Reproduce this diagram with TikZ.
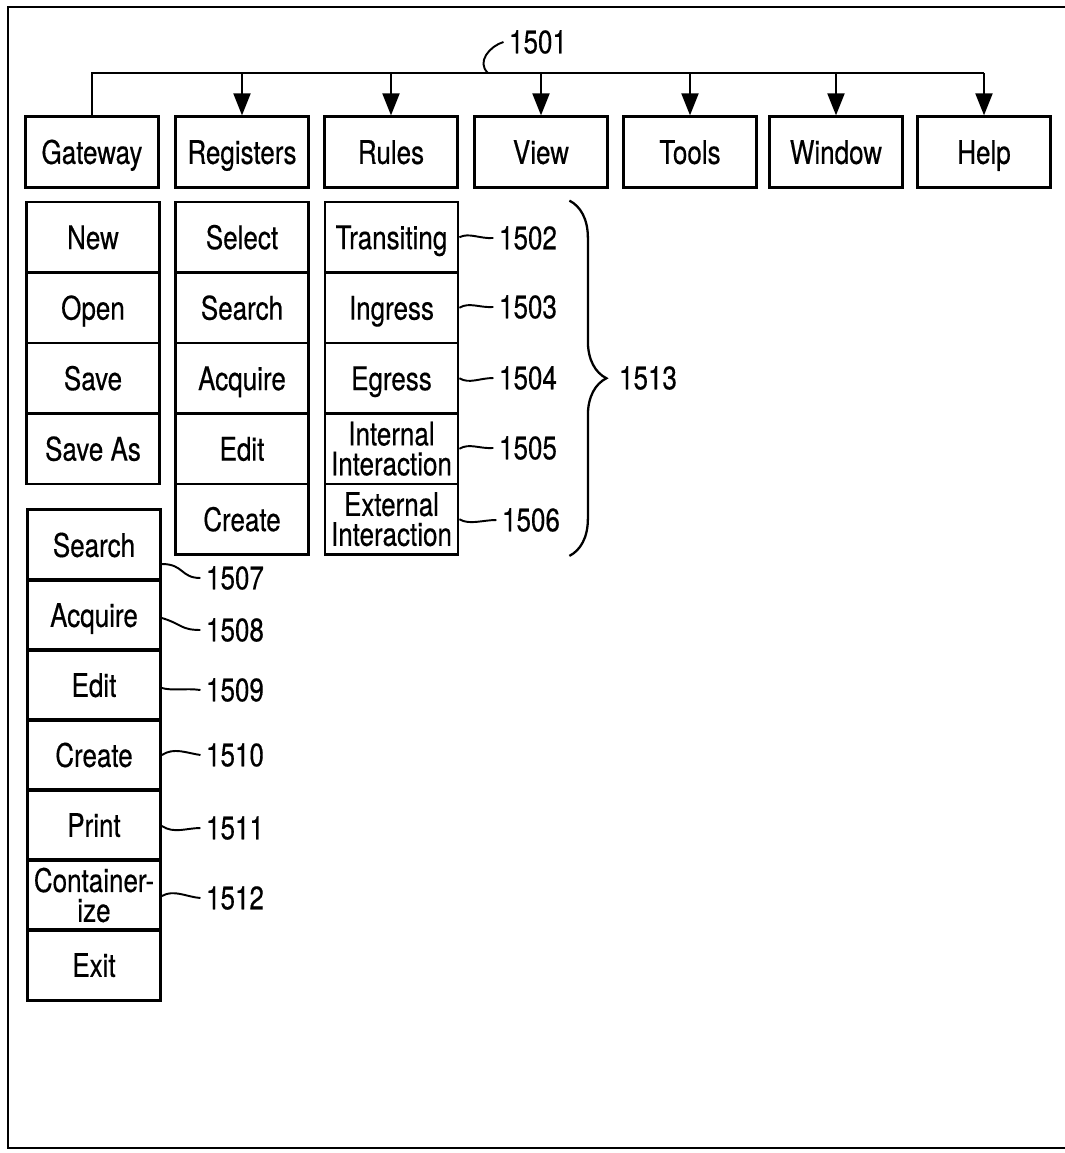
\documentclass[tikz,border=0pt]{standalone}
\usepackage{fontspec}
\setmainfont[FakeStretch=0.8,FakeBold=0.4]{TeX Gyre Heros}
\usepackage{tikz}
\usetikzlibrary{positioning,arrows.meta,calc}
\usetikzlibrary{decorations.pathreplacing}
\tikzset{
  menu/.style={draw=black, line width=1.6pt, minimum width=2.66cm, minimum height=1.41cm,
    inner sep=0pt, align=center, text height=13.5pt, text depth=0pt,
    font=\fontsize{18.5pt}{17pt}\selectfont},
  twoline/.style={menu, text height=, text depth=},
  refnum/.style={inner sep=3pt, font=\fontsize{18.5pt}{20pt}\selectfont},
  leader/.style={draw=black, line width=1.1pt},
  busline/.style={draw=black, line width=1.2pt},
  menuarrow/.style={draw=black, line width=1.2pt, -{Triangle[length=0.44cm,width=0.34cm]}},
  outerframe/.style={draw=black, line width=1.5pt},
  groupbrace/.style={draw=black, line width=1.3pt, decorate, decoration={brace, amplitude=0.74cm}}
}

\begin{document}
\begin{tikzpicture}[x=0.02cm,y=-0.02cm]
  \useasboundingbox (0,0) rectangle (1065,1153);
  \draw[outerframe] (1075,7) -- (8,7) -- (8,1148) -- (1075,1148);

  % menu bar
  \node[menu] (gateway) at (92,152) {Gateway};
  \node[menu] (registers) at (242,152) {Registers};
  \node[menu] (rules) at (391,152) {Rules};
  \node[menu] (view) at (541,152) {View};
  \node[menu] (tools) at (690,152) {Tools};
  \node[menu] (window) at (836,152) {Window};
  \node[menu] (help) at (984,152) {Help};

  \coordinate (bus) at (0,73);
  \draw[busline] (gateway.north) -- (gateway.north |- bus) -- (help.north |- bus);
  \draw[menuarrow] (registers.north |- bus) -- (registers.north);
  \draw[menuarrow] (rules.north |- bus) -- (rules.north);
  \draw[menuarrow] (view.north |- bus) -- (view.north);
  \draw[menuarrow] (tools.north |- bus) -- (tools.north);
  \draw[menuarrow] (window.north |- bus) -- (window.north);
  \draw[menuarrow] (help.north |- bus) -- (help.north);

  \node[refnum] (n1501) at (538,42) {1501};
  \coordinate (tap) at (488,73);
  \draw[leader] (n1501.west) .. controls (490,46) and (476,62) .. (tap);

  % gateway menu
  \node[menu] (new) at (93,237.25) {New};
  \node[menu] (open) at (93,307.75) {Open};
  \node[menu] (save) at (93,378.25) {Save};
  \node[menu] (saveas) at (93,448.75) {Save As};

  % registers menu
  \node[menu] (select) at (242,237.25) {Select};
  \node[menu] (rsearch) at (242,307.75) {Search};
  \node[menu] (racquire) at (242,378.25) {Acquire};
  \node[menu] (redit) at (242,448.75) {Edit};
  \node[menu] (rcreate) at (242,519.25) {Create};

  % rules menu
  \node[menu] (transiting) at (391.5,237.25) {Transiting};
  \node[menu] (ingress) at (391.5,307.75) {Ingress};
  \node[menu] (egress) at (391.5,378.25) {Egress};
  \node[twoline] (internal) at (391.5,448.75) {Internal\\Interaction};
  \node[twoline] (external) at (391.5,519.25) {External\\Interaction};

  \node[refnum] (n1502) at (528,238) {1502};
  \node[refnum] (n1503) at (528,307) {1503};
  \node[refnum] (n1504) at (528,378) {1504};
  \node[refnum] (n1505) at (528,448) {1505};
  \node[refnum] (n1506) at (531,520) {1506};
  \draw[leader] (transiting.east) .. controls +(10,-5) and +(-14,1) .. (n1502.west);
  \draw[leader] (ingress.east) .. controls +(10,-6) and +(-14,1) .. (n1503.west);
  \draw[leader] (egress.east) .. controls +(10,6) and +(-14,0) .. (n1504.west);
  \draw[leader] (internal.east) .. controls +(10,-6) and +(-14,1) .. (n1505.west);
  \draw[leader] (external.east) .. controls +(10,6) and +(-14,0) .. (n1506.west);

  \draw[groupbrace] ($(transiting.north east)+(110,0)$) -- ($(external.south east)+(110,0)$);
  \node[refnum] (n1513) at (648,378) {1513};

  % second gateway menu
  \node[menu] (gsearch) at (94,545) {Search};
  \node[menu] (gacquire) at (94,615) {Acquire};
  \node[menu] (gedit) at (94,685) {Edit};
  \node[menu] (gcreate) at (94,755) {Create};
  \node[menu] (gprint) at (94,825) {Print};
  \node[twoline] (gcont) at (94,895) {Container-\\ize};
  \node[menu] (gexit) at (94,965) {Exit};

  \node[refnum] (n1507) at (235,578) {1507};
  \node[refnum] (n1508) at (235,630) {1508};
  \node[refnum] (n1509) at (235,690) {1509};
  \node[refnum] (n1510) at (235,755) {1510};
  \node[refnum] (n1511) at (235,828) {1511};
  \node[refnum] (n1512) at (235,898) {1512};
  \draw[leader] ($(gsearch.east)+(0,19)$) .. controls +(22,0) and +(-20,0) .. (n1507.west);
  \draw[leader] ($(gacquire.east)+(0,3)$) .. controls +(20,6) and +(-20,0) .. (n1508.west);
  \draw[leader] ($(gedit.east)+(0,3)$) .. controls +(10,3) and +(-14,-2) .. (n1509.west);
  \draw[leader] (gcreate.east) .. controls +(12,-8) and +(-14,-2) .. (n1510.west);
  \draw[leader] ($(gprint.east)+(0,1)$) .. controls +(12,8) and +(-14,0) .. (n1511.west);
  \draw[leader] ($(gcont.east)+(0,1)$) .. controls +(12,-7) and +(-14,-1) .. (n1512.west);
\end{tikzpicture}
\end{document}
